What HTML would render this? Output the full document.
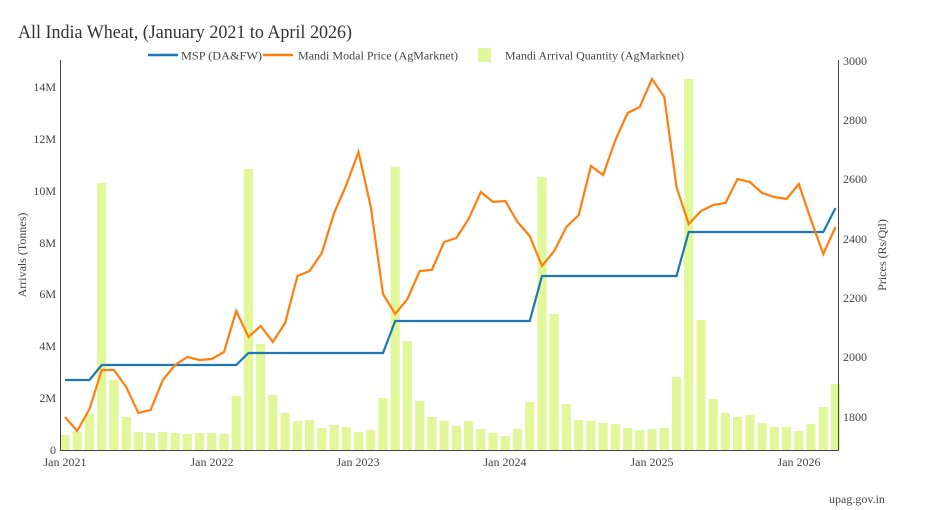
<!DOCTYPE html>
<html><head><meta charset="utf-8"><style>
body{margin:0;background:#fff;}
svg{display:block;font-family:"Liberation Serif",serif;}
</style></head><body>
<svg id="c" width="950" height="510" xmlns="http://www.w3.org/2000/svg">
<rect width="950" height="510" fill="#fff"/>
<text x="18" y="38" font-size="18.5" fill="#333" textLength="334" lengthAdjust="spacingAndGlyphs">All India Wheat, (January 2021 to April 2026)</text>
<line x1="148" y1="55" x2="178" y2="55" stroke="#1f77b4" stroke-width="2.5"/>
<text x="181" y="59.5" font-size="12" fill="#444" textLength="81" lengthAdjust="spacingAndGlyphs">MSP (DA&amp;FW)</text>
<line x1="263" y1="55" x2="293" y2="55" stroke="#ff7f0e" stroke-width="2.5"/>
<text x="298" y="59.5" font-size="12" fill="#444" textLength="160" lengthAdjust="spacingAndGlyphs">Mandi Modal Price (AgMarknet)</text>
<rect x="478" y="48" width="13" height="14" fill="#e1f79a"/>
<text x="505" y="59.5" font-size="12" fill="#444" textLength="179" lengthAdjust="spacingAndGlyphs">Mandi Arrival Quantity (AgMarknet)</text>
<g id="bars" fill="#e1f79a"></g>
<g stroke="#444" stroke-width="1">
<line x1="60.5" y1="60" x2="60.5" y2="450"/>
<line x1="60" y1="450.5" x2="839" y2="450.5"/>
<line x1="838.5" y1="60" x2="838.5" y2="450"/>
</g>
<g font-size="12" fill="#444" text-anchor="end">
<text x="56" y="454">0</text><text x="56" y="402">2M</text><text x="56" y="350">4M</text><text x="56" y="298">6M</text><text x="56" y="247">8M</text><text x="56" y="195">10M</text><text x="56" y="143">12M</text><text x="56" y="91">14M</text>
</g>
<g font-size="12" fill="#444">
<text x="843" y="421">1800</text><text x="843" y="361">2000</text><text x="843" y="302">2200</text><text x="843" y="243">2400</text><text x="843" y="183">2600</text><text x="843" y="124">2800</text><text x="843" y="65">3000</text>
</g>
<g font-size="12" fill="#444" text-anchor="middle">
<text x="65" y="466">Jan 2021</text><text x="212" y="466">Jan 2022</text><text x="358" y="466">Jan 2023</text><text x="505" y="466">Jan 2024</text><text x="652" y="466">Jan 2025</text><text x="799" y="466">Jan 2026</text>
</g>
<text transform="translate(26,255) rotate(-90)" font-size="12" fill="#444" text-anchor="middle">Arrivals (Tonnes)</text>
<text transform="translate(886,255) rotate(-90)" font-size="12" fill="#444" text-anchor="middle">Prices (Rs/Qtl)</text>
<polyline id="msp" fill="none" stroke="#1f77b4" stroke-width="2.2"/>
<polyline id="mp" fill="none" stroke="#ff7f0e" stroke-width="2.2"/>
<text x="857" y="503" font-size="12" fill="#444" text-anchor="middle">upag.gov.in</text>
</svg>
<script>
var bt=[435,432,414,183,380,417,432,433,432,433,434,433,433,434,396,169,344,395,413,421,420,428,425,427,432,430,398,167,341,401,417,421,426,421,429,433,436,429,402,177,314,404,420,421,423,424,428,430,429,428,377,79,320,399,413,417,415,423,427,427,431,424,407,384];
var mp=[417,431,409,370,370,387,413,410,380,365,357,360,359,352,311,337,326,342,323,276,271,253,213,185,152,207,294,314,299,271,270,242,238,219,192,202,201,222,236,266,251,227,215,166,175,140,113,107,79,97,187,224,211,205,203,179,182,193,197,199,184,220,254,227];
var ms=[];for(var i=0;i<64;i++){var v;if(i<3)v=380;else if(i<15)v=365;else if(i<27)v=353;else if(i<39)v=321;else if(i<51)v=276;else if(i<63)v=232;else v=208;ms.push(v);}
var X=function(i){return 65+12.23*i;};
var g=document.getElementById('bars'),h='';
for(var i=0;i<64;i++){h+='<rect x="'+(X(i)-4.6).toFixed(1)+'" y="'+bt[i]+'" width="9.2" height="'+(450-bt[i])+'"/>';}
g.innerHTML=h;
document.getElementById('mp').setAttribute('points',mp.map(function(y,i){return X(i).toFixed(1)+','+y}).join(' '));
document.getElementById('msp').setAttribute('points',ms.map(function(y,i){return X(i).toFixed(1)+','+y}).join(' '));
</script>
</body></html>
